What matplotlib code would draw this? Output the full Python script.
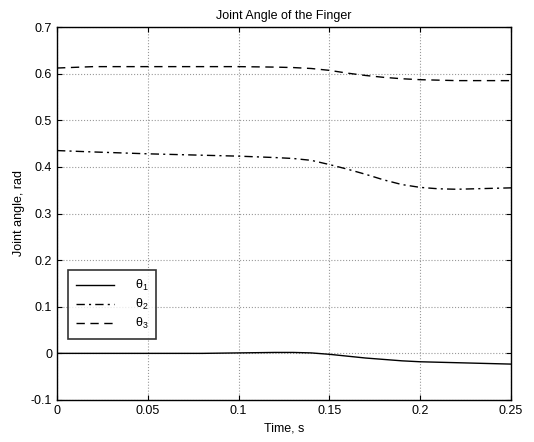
import numpy as np
import matplotlib
matplotlib.use("Agg")
import matplotlib.pyplot as plt

plt.rcParams['font.family'] = ['Liberation Sans', 'DejaVu Sans']
plt.rcParams['mathtext.default'] = 'regular'

t = [0.0, 0.02, 0.05, 0.08, 0.1, 0.12, 0.13, 0.14, 0.15, 0.16, 0.17, 0.18, 0.19, 0.2, 0.21, 0.22, 0.23, 0.24, 0.25]
theta1 = [0.0, 0.0, 0.0, 0.0, 0.001, 0.002, 0.002, 0.001, -0.002, -0.006, -0.010, -0.013, -0.016, -0.018, -0.019, -0.020, -0.021, -0.022, -0.023]
theta2 = [0.435, 0.432, 0.428, 0.425, 0.423, 0.420, 0.418, 0.414, 0.405, 0.395, 0.384, 0.372, 0.362, 0.356, 0.353, 0.352, 0.353, 0.354, 0.355]
theta3 = [0.612, 0.615, 0.615, 0.615, 0.615, 0.614, 0.613, 0.611, 0.607, 0.601, 0.596, 0.592, 0.589, 0.587, 0.586, 0.585, 0.585, 0.585, 0.585]
labels = [r'$\theta_1$', r'$\theta_2$', r'$\theta_3$']

fig = plt.figure(figsize=(5.34, 4.42), dpi=100)
ax = fig.add_axes([57/534, 42/442, 454/534, 373/442])
ax.plot(t, theta1, 'k-', lw=1.0, label=labels[0])
ax.plot(t, theta2, 'k-.', lw=1.0, label=labels[1], dashes=(6, 3, 1.5, 3))
ax.plot(t, theta3, 'k--', lw=1.0, label=labels[2], dashes=(6, 4))
ax.set_xlim(0, 0.25)
ax.set_ylim(-0.1, 0.7)
ax.set_xticks([0, 0.05, 0.1, 0.15, 0.2, 0.25])
ax.set_xticklabels(['0', '0.05', '0.1', '0.15', '0.2', '0.25'])
ax.set_yticks([-0.1, 0, 0.1, 0.2, 0.3, 0.4, 0.5, 0.6, 0.7])
ax.set_yticklabels(['-0.1', '0', '0.1', '0.2', '0.3', '0.4', '0.5', '0.6', '0.7'])
ax.grid(True, linestyle=':', color='#999999', lw=0.8)
ax.tick_params(direction='in', top=True, right=True, labelsize=9)
ax.set_title('Joint Angle of the Finger', fontsize=9)
ax.set_xlabel('Time, s', fontsize=9)
ax.set_ylabel('Joint angle, rad', fontsize=9)
for s in ax.spines.values():
    s.set_linewidth(1.0)
leg = ax.legend(loc='lower left', bbox_to_anchor=(0.024, 0.163), fontsize=9, frameon=True,
                fancybox=False, edgecolor='black', handlelength=3.0, labelspacing=0.3,
                borderpad=0.65, handletextpad=1.7, borderaxespad=0)
leg.get_frame().set_linewidth(1.2)
fig.savefig('out.png', dpi=100)
